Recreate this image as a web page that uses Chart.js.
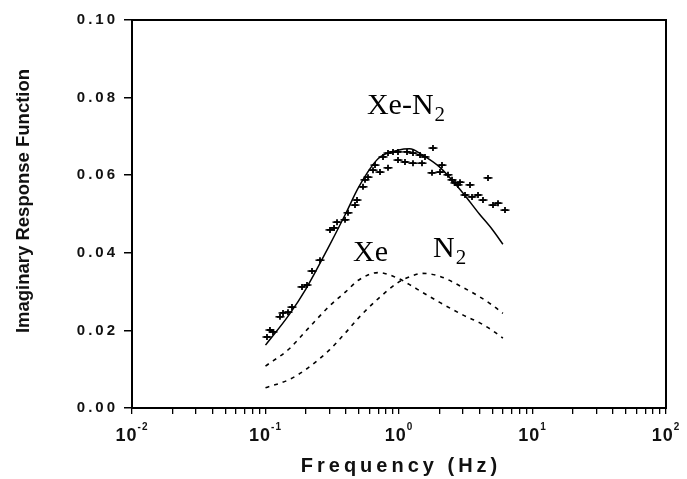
<!DOCTYPE html>
<html><head><meta charset="utf-8">
<script src="https://cdn.jsdelivr.net/npm/chart.js@4/dist/chart.umd.min.js"></script>
<style>html,body{margin:0;padding:0;background:#fff}canvas{display:block}</style>
</head><body>
<canvas id="c" width="687" height="479"></canvas>
<script>
// ---- measured data (frequency in Hz, imaginary response) ----
const dataFreq = [0.1026,0.108,0.1138,0.1284,0.1353,0.1474,0.1579,0.1877,0.2046,0.223,0.256,0.3042,0.326,0.3433,0.3941,0.415,0.4682,0.4846,0.5375,0.5564,0.5859,0.6387,0.6612,0.7207,0.759,0.8273,0.8273,0.9018,0.9829,0.9829,1.109,1.148,1.273,1.273,1.437,1.487,1.566,1.797,1.767,2.099,2.028,2.328,2.495,2.627,2.767,2.864,3.403,3.122,3.523,3.907,4.258,4.642,5.06,5.516,6.223];
const dataVal  = [0.0183,0.0201,0.0196,0.0235,0.0245,0.0247,0.026,0.0312,0.0317,0.0353,0.0381,0.0459,0.0464,0.0479,0.0485,0.0503,0.0523,0.0536,0.057,0.0588,0.0595,0.0613,0.0626,0.0608,0.0647,0.0657,0.0619,0.066,0.066,0.0639,0.0634,0.066,0.0657,0.0631,0.0652,0.0631,0.0647,0.067,0.0606,0.0626,0.0608,0.0601,0.0588,0.058,0.0575,0.0582,0.0575,0.0549,0.0544,0.0549,0.0536,0.0593,0.0523,0.0528,0.051];

const curveFreq = [0.1,0.15,0.2,0.3,0.4,0.5,0.7,1.0,1.2,1.5,2,3,4,5,6];
const fitXeN2   = [0.0162,0.0240,0.0306,0.0418,0.0502,0.0570,0.0643,0.0665,0.0668,0.0652,0.0622,0.0555,0.0500,0.0460,0.0422];
const fitXe     = [0.0108,0.0152,0.0198,0.0262,0.0300,0.0330,0.0349,0.0333,0.0318,0.0298,0.0273,0.0240,0.0220,0.0200,0.0180];
const fitN2     = [0.0052,0.0073,0.0099,0.0149,0.0195,0.0233,0.0282,0.0325,0.0338,0.0347,0.0340,0.0311,0.0287,0.0265,0.0244];

const xDecades   = [0.01,0.1,1,10,100];
const xExponents = ['-2','-1','0','1','2'];
const yTicks      = [0,0.02,0.04,0.06,0.08,0.10];
const yTickLabels = ['0.00','0.02','0.04','0.06','0.08','0.10'];

const xTitle = 'Frequency (Hz)';
const yTitle = 'Imaginary Response Function';
// annotations: [main text, subscript, freq, value]
const notes = [['Xe-N','2',0.575,0.0758],['Xe','',0.452,0.0379],['N','2',1.797,0.0389]];

const pts = dataFreq.map((f,i)=>({x:f,y:dataVal[i]}));
const mk = arr => curveFreq.map((f,i)=>({x:f,y:arr[i]}));

const labelPlugin = {
  id:'labels',
  afterDraw(chart){
    const ctx = chart.ctx, ca = chart.chartArea;
    const xs = chart.scales.x, ys = chart.scales.y;
    ctx.save();
    ctx.strokeStyle = '#000'; ctx.lineWidth = 2;
    ctx.strokeRect(ca.left, ca.top, ca.right-ca.left, ca.bottom-ca.top);
    ctx.fillStyle = '#111';
    // y tick labels
    ctx.font = 'bold 15px "Liberation Sans", Arial, sans-serif';
    ctx.letterSpacing = '3px';
    ctx.textAlign = 'right'; ctx.textBaseline = 'middle';
    yTicks.forEach((v,i)=>{ ctx.fillText(yTickLabels[i], 118, ys.getPixelForValue(v)); });
    // x tick labels with superscripts
    ctx.letterSpacing = '1px';
    ctx.textAlign = 'left'; ctx.textBaseline = 'alphabetic';
    xDecades.forEach((v,i)=>{
      const px = xs.getPixelForValue(v);
      ctx.font = 'bold 18px "Liberation Sans", Arial, sans-serif';
      const w1 = ctx.measureText('10').width;
      ctx.font = 'bold 10px "Liberation Sans", Arial, sans-serif';
      const w2 = ctx.measureText(xExponents[i]).width;
      const x0 = px - (w1+w2)/2;
      ctx.font = 'bold 18px "Liberation Sans", Arial, sans-serif';
      ctx.fillText('10', x0, 441);
      ctx.font = 'bold 10px "Liberation Sans", Arial, sans-serif';
      ctx.fillText(xExponents[i], x0+w1, 430);
    });
    // x title
    ctx.font = 'bold 20px "Liberation Sans", Arial, sans-serif';
    ctx.letterSpacing = '4px';
    ctx.textAlign = 'center';
    ctx.fillText(xTitle, (ca.left+ca.right)/2 + 2, 472);
    // y title
    ctx.letterSpacing = '0px';
    ctx.font = 'bold 18.5px "Liberation Sans", Arial, sans-serif';
    ctx.translate(29, 201); ctx.rotate(-Math.PI/2);
    ctx.fillText(yTitle, 0, 0);
    ctx.setTransform(1,0,0,1,0,0);
    // annotations
    ctx.textAlign = 'left';
    ctx.fillStyle = '#000';
    notes.forEach(n=>{
      const px = xs.getPixelForValue(n[2]), py = ys.getPixelForValue(n[3]);
      ctx.font = '30px "Liberation Serif", "Times New Roman", serif';
      ctx.fillText(n[0], px, py);
      const w = ctx.measureText(n[0]).width;
      if (n[1]) { ctx.font = '21px "Liberation Serif", "Times New Roman", serif'; ctx.fillText(n[1], px+w+1, py+7); }
    });
    ctx.restore();
  }
};

new Chart(document.getElementById('c'), {
  type:'scatter',
  data:{datasets:[
    {data:pts, showLine:false, pointStyle:'cross', pointRadius:3, pointBorderWidth:1.8, borderColor:'#000', backgroundColor:'#000'},
    {data:pts, showLine:false, pointStyle:'line', pointRadius:4.5, pointBorderWidth:1.5, borderColor:'#000', backgroundColor:'#000'},
    {data:mk(fitXeN2), showLine:true, pointRadius:0, borderColor:'#000', borderWidth:1.5, cubicInterpolationMode:'monotone', fill:false},
    {data:mk(fitXe), showLine:true, pointRadius:0, borderColor:'#000', borderWidth:1.6, borderDash:[4,5], cubicInterpolationMode:'monotone', fill:false},
    {data:mk(fitN2), showLine:true, pointRadius:0, borderColor:'#000', borderWidth:1.6, borderDash:[4,5], cubicInterpolationMode:'monotone', fill:false}
  ]},
  options:{
    responsive:false, animation:false,
    plugins:{legend:{display:false}, tooltip:{enabled:false}},
    layout:{padding:{left:0, top:20, right:21, bottom:0}},
    scales:{
      x:{type:'logarithmic', min:0.01, max:100,
        afterBuildTicks(s){
          const t=[];
          for (let d=0; d<4; d++) for (let m=1; m<10; m++) t.push({value:xDecades[d]*m, major:m===1});
          t.push({value:100, major:true});
          s.ticks=t;
        },
        afterFit(s){ s.height = 71; },
        ticks:{display:false},
        grid:{drawOnChartArea:false, drawTicks:true, tickLength:6, color:'#000', lineWidth:1.3},
        border:{display:true, color:'#000', width:2}
      },
      y:{min:0, max:0.1,
        afterBuildTicks(s){ s.ticks = yTicks.map(v=>({value:v})); },
        afterFit(s){ s.width = 132; },
        ticks:{display:false},
        grid:{drawOnChartArea:false, drawTicks:true, tickLength:8, color:'#000', lineWidth:1.5},
        border:{display:true, color:'#000', width:2}
      }
    }
  },
  plugins:[labelPlugin]
});
</script>
</body></html>
